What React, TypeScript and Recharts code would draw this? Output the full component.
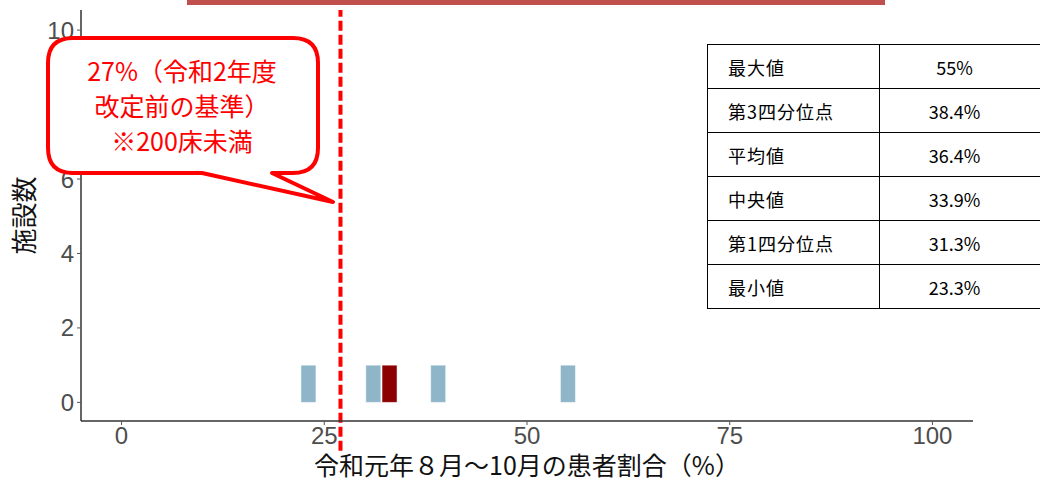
import React from "react";
import { ComposedChart, Bar, XAxis, YAxis, ReferenceLine, Cell } from "recharts";

const binCenters = [23, 31, 33, 39, 55];
const binCounts = [1, 1, 1, 1, 1];
const binColors = ["#8fb5c9", "#8fb5c9", "#8b0000", "#8fb5c9", "#8fb5c9"];
const xTicks = [0, 25, 50, 75, 100];
const yTicks = [0, 2, 4, 6, 8, 10];
const thresholdValue = 27;
const statLabels = ["最大値", "第3四分位点", "平均値", "中央値", "第1四分位点", "最小値"];
const statValues = ["55%", "38.4%", "36.4%", "33.9%", "31.3%", "23.3%"];
const calloutLines = ["27%（令和2年度", "改定前の基準）", "※200床未満"];
const xTitle = "令和元年８月～10月の患者割合（%）";
const yTitle = "施設数";

const data = binCenters.map((x, i) => ({ x, count: binCounts[i], color: binColors[i] }));

const JP = "'Noto Sans CJK JP', 'Noto Sans', sans-serif";
const TICK = "'Liberation Sans', Arial, sans-serif";

const YLabel = (props: any) => {
  const vb = props.viewBox || {};
  const cy = (vb.y || 0) + (vb.height || 0) / 2;
  return (
    <text
      transform={`translate(22, ${cy}) rotate(-90)`}
      textAnchor="middle"
      dominantBaseline="central"
      fontSize={26}
      fill="#111"
      fontFamily={JP}
    >
      {yTitle}
    </text>
  );
};

const XLabel = (props: any) => {
  const vb = props.viewBox || {};
  const cx = (vb.x || 0) + (vb.width || 0) / 2;
  return (
    <text x={cx} y={475} textAnchor="middle" fontSize={25} fill="#111" fontFamily={JP}>
      {xTitle}
    </text>
  );
};

export default function App() {
  return (
    <div style={{ position: "absolute", left: 0, top: 0, width: 1040, height: 481, background: "#fff", overflow: "hidden" }}>
      <ComposedChart width={1040} height={481} data={data} margin={{ top: 10, right: 67, bottom: 0, left: 0 }}>
        <XAxis
          dataKey="x"
          type="number"
          domain={[-5, 105]}
          ticks={xTicks}
          allowDataOverflow
          height={60}
          tickSize={4}
          tickMargin={2}
          axisLine={{ stroke: "#333", strokeWidth: 1.5 }}
          tickLine={{ stroke: "#555" }}
          tick={{ fontSize: 24, fill: "#4d4d4d", fontFamily: TICK }}
          label={<XLabel />}
        />
        <YAxis
          type="number"
          domain={[-0.5, 10.54]}
          ticks={yTicks}
          allowDataOverflow
          width={81}
          tickSize={4}
          tickMargin={3}
          axisLine={{ stroke: "#333", strokeWidth: 1.5 }}
          tickLine={{ stroke: "#555" }}
          tick={{ fontSize: 24, fill: "#4d4d4d", fontFamily: TICK }}
          label={<YLabel />}
        />
        <Bar dataKey="count" barSize={15} isAnimationActive={false} stroke="#fff" strokeWidth={0.5}>
          {data.map((d, i) => (
            <Cell key={i} fill={d.color} />
          ))}
        </Bar>
        <ReferenceLine
          segment={[{ x: thresholdValue, y: -1.3 }, { x: thresholdValue, y: 10.54 }]}
          ifOverflow="visible"
          stroke="#ff0000"
          strokeWidth={4}
          strokeDasharray="10 4"
        />
      </ComposedChart>

      <div style={{ position: "absolute", left: 187, top: 0, width: 698, height: 5, background: "#c0504d" }} />

      <svg style={{ position: "absolute", left: 0, top: 0 }} width={1040} height={481}>
        <path
          d="M 73 38 L 293 38 Q 318 38 318 63 L 318 148 Q 318 173 293 173 L 272 173 L 333 202 L 202 173 L 73 173 Q 48 173 48 148 L 48 63 Q 48 38 73 38 Z"
          fill="#fff"
          stroke="#ff0000"
          strokeWidth={4}
          strokeLinejoin="round"
        />
        {calloutLines.map((t, i) => (
          <text key={i} x={182} y={81 + i * 35} textAnchor="middle" fontSize={25} fill="#ff0000" fontFamily={JP}>
            {t}
          </text>
        ))}
      </svg>

      <table
        style={{
          position: "absolute",
          left: 707,
          top: 44,
          width: 340,
          borderCollapse: "collapse",
          fontFamily: JP,
          fontSize: 18,
          color: "#000",
          background: "#fff",
        }}
      >
        <tbody>
          {statLabels.map((l, i) => (
            <tr key={i} style={{ height: 44 }}>
              <td style={{ border: "1.5px solid #000", width: 172, paddingLeft: 20, paddingTop: 0, paddingBottom: 0, boxSizing: "border-box", letterSpacing: 1 }}>{l}</td>
              <td style={{ border: "1.5px solid #000", textAlign: "center", paddingRight: 18, paddingTop: 0, paddingBottom: 0 }}>{statValues[i]}</td>
            </tr>
          ))}
        </tbody>
      </table>
    </div>
  );
}
